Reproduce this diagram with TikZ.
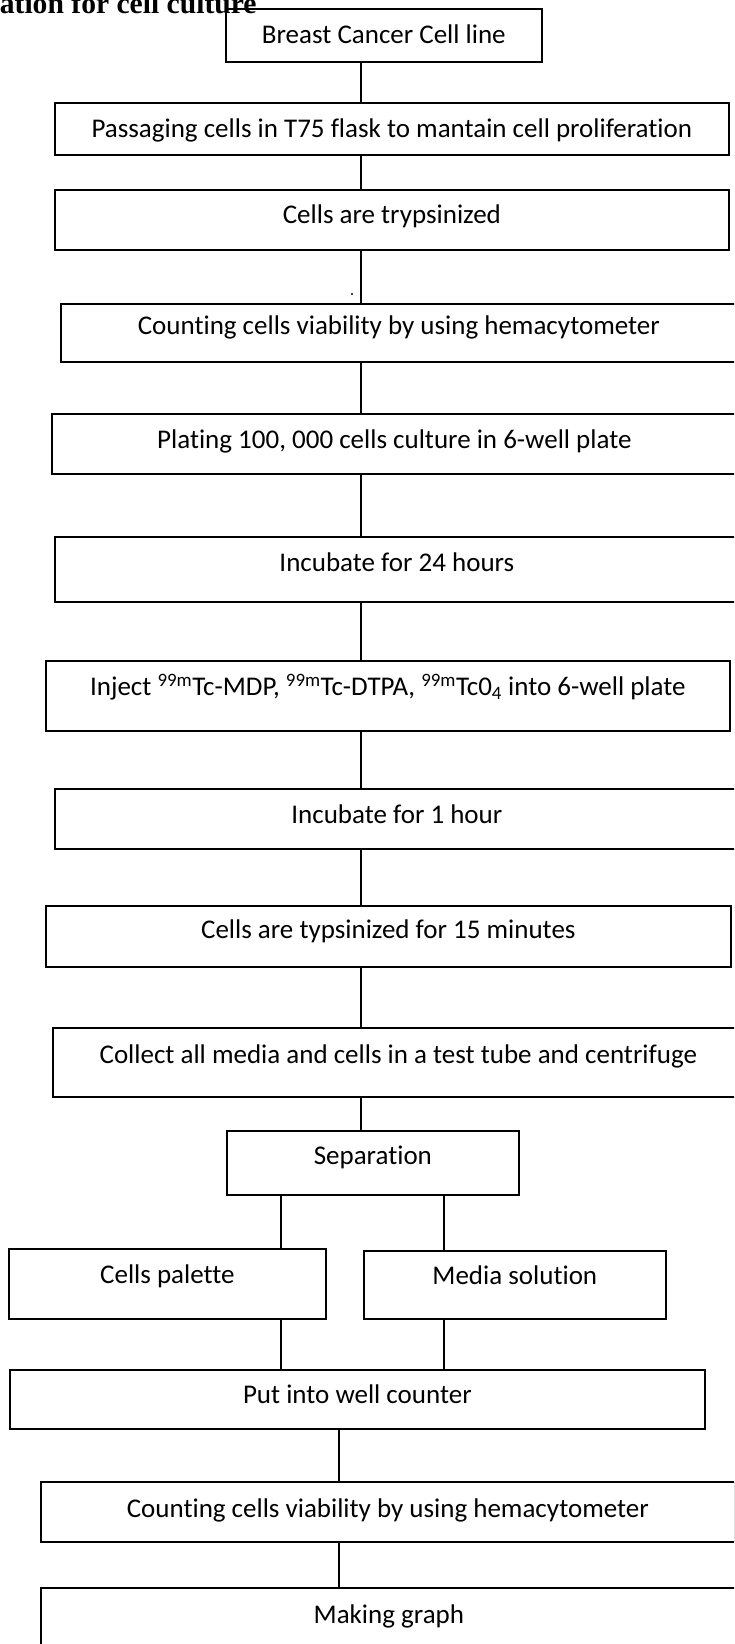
\documentclass[tikz,border=0pt]{standalone}
\usepackage{fontspec}
\setmainfont{Carlito}[Ligatures=NoCommon]
\newfontfamily\headfont{Liberation Serif}
\usepackage{tikz}

\begin{document}
\begin{tikzpicture}[x=1pt,y=-1pt,line width=1.7pt,
  stepbox/.style={draw,anchor=north west,inner sep=0pt,font=\fontsize{27}{32}\selectfont}]
  \useasboundingbox (0,0) rectangle (734,1644);
  \clip (0,0) rectangle (734,1644);

  \coordinate (spine) at (361,0);
  \coordinate (splitL) at (281,0);
  \coordinate (splitR) at (444,0);
  \coordinate (spineB) at (339,0);

  % heading, cut off at the top
  \node[anchor=base west,inner sep=0pt,font=\headfont\bfseries\fontsize{29.6}{34}\selectfont] (head) at (-1,13) {ation for cell culture};

  % Main column
  \node[stepbox,minimum width=316pt,minimum height=53pt,text height=35pt,text depth=18pt] (line) at (225,8) {Breast Cancer Cell line};
  \node[stepbox,minimum width=674pt,minimum height=52pt,text height=35pt,text depth=17pt] (pass) at (54,102) {Passaging cells in T75 flask to mantain cell proliferation};
  \node[stepbox,minimum width=674pt,minimum height=60pt,text height=34pt,text depth=26pt] (tryp) at (54,189) {Cells are trypsinized};
  \node[stepbox,minimum width=676pt,minimum height=58pt,text height=31pt,text depth=27pt] (count) at (60,303) {Counting cells viability by using hemacytometer};
  \node[stepbox,minimum width=685pt,minimum height=60pt,text height=35pt,text depth=25pt] (plate) at (51,413) {Plating 100, 000 cells culture in 6-well plate};
  \node[stepbox,minimum width=684pt,minimum height=65pt,text height=35pt,text depth=30pt] (incday) at (54,536) {Incubate for 24 hours};
  \node[stepbox,minimum width=684pt,minimum height=70pt,text height=35pt,text depth=35pt] (inject) at (45,660) {Inject \textsuperscript{99m}Tc-MDP, \textsuperscript{99m}Tc-DTPA, \textsuperscript{99m}Tc0\textsubscript{4} into 6-well plate};
  \node[stepbox,minimum width=684pt,minimum height=60pt,text height=35pt,text depth=25pt] (inchour) at (54,788) {Incubate for 1 hour};
  \node[stepbox,minimum width=685pt,minimum height=61pt,text height=33pt,text depth=28pt] (trypmin) at (45,905) {Cells are typsinized for 15 minutes};
  \node[stepbox,minimum width=691pt,minimum height=69pt,text height=36pt,text depth=33pt] (collect) at (52,1027) {Collect all media and cells in a test tube and centrifuge};
  \node[stepbox,minimum width=292pt,minimum height=64pt,text height=34pt,text depth=30pt] (sep) at (226,1130) {Separation};

  % the two parts
  \node[stepbox,minimum width=317pt,minimum height=70pt,text height=35pt,text depth=35pt] (pellet) at (8,1248) {Cells palette};
  \node[stepbox,minimum width=302pt,minimum height=68pt,text height=34pt,text depth=34pt] (media) at (363,1250) {Media solution};

  \node[stepbox,minimum width=695pt,minimum height=59pt,text height=34pt,text depth=25pt] (well) at (9,1369) {Put into well counter};
  \node[stepbox,minimum width=694pt,minimum height=60pt,text height=36pt,text depth=24pt] (countB) at (40,1481) {Counting cells viability by using hemacytometer};
  \node[stepbox,minimum width=696pt,minimum height=80pt,text height=36pt,text depth=44pt] (graph) at (40,1587) {Making graph};

  % Connectors
  \draw (line.south -| spine) -- (pass.north -| spine);
  \draw (pass.south -| spine) -- (tryp.north -| spine);
  \draw (tryp.south -| spine) -- (count.north -| spine);
  \draw (count.south -| spine) -- (plate.north -| spine);
  \draw (plate.south -| spine) -- (incday.north -| spine);
  \draw (incday.south -| spine) -- (inject.north -| spine);
  \draw (inject.south -| spine) -- (inchour.north -| spine);
  \draw (inchour.south -| spine) -- (trypmin.north -| spine);
  \draw (trypmin.south -| spine) -- (collect.north -| spine);
  \draw (collect.south -| spine) -- (sep.north -| spine);
  \draw (sep.south -| splitL) -- (pellet.north -| splitL);
  \draw (sep.south -| splitR) -- (media.north -| splitR);
  \draw (pellet.south -| splitL) -- (well.north -| splitL);
  \draw (media.south -| splitR) -- (well.north -| splitR);
  \draw (well.south -| spineB) -- (countB.north -| spineB);
  \draw (countB.south -| spineB) -- (graph.north -| spineB);

  \fill (352,294) circle (1.2pt);
\end{tikzpicture}
\end{document}
